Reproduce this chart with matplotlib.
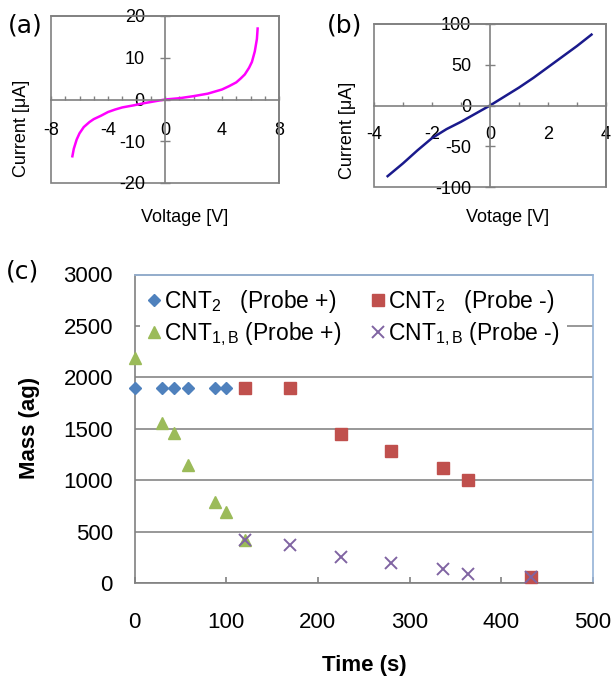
import numpy as np
import matplotlib
matplotlib.use("Agg")
import matplotlib.pyplot as plt
from matplotlib.patches import Rectangle

plt.rcParams['font.family'] = ['Liberation Sans', 'DejaVu Sans']
plt.rcParams['mathtext.fontset'] = 'custom'
plt.rcParams['mathtext.rm'] = 'Liberation Sans'
plt.rcParams['mathtext.it'] = 'Liberation Sans:italic'
plt.rcParams['mathtext.bf'] = 'Liberation Sans:bold'
plt.rcParams['axes.unicode_minus'] = False

# ---- data: panel (a) I-V curve
volt_a = [-6.5, -6.4, -6.2, -6.0, -5.7, -5.3, -5.0, -4.5, -4.0, -3.5, -3.0, -2.2,
          -1.5, -1.0, -0.5, 0.0, 1.0, 2.0, 3.0, 3.6, 4.0, 4.5, 5.0, 5.3, 5.6,
          5.9, 6.1, 6.3, 6.45, 6.5]
curr_a = [-13.6, -11.8, -9.6, -8.1, -6.6, -5.4, -4.7, -3.9, -3.0, -2.4, -1.9, -1.4,
          -0.9, -0.6, -0.3, 0.0, 0.3, 0.8, 1.4, 2.0, 2.4, 3.2, 4.1, 5.0, 6.0,
          7.6, 9.0, 11.5, 14.5, 17.0]

# ---- data: panel (b) I-V curve
volt_b = [-3.53, -3.0, -2.5, -2.0, -1.5, -1.0, -0.5, 0.0, 0.5, 1.0, 1.5, 2.0, 2.5, 3.0, 3.5]
curr_b = [-86.7, -71, -55, -40, -29, -20, -10, 0, 11, 22, 34, 47, 60, 73, 87]

# ---- data: panel (c) mass vs time
t_cnt2_pos = [0, 30, 43, 58, 88, 100]
m_cnt2_pos = [1900, 1900, 1900, 1900, 1900, 1900]
t_cnt2_neg = [120, 170, 225, 280, 336, 364, 432]
m_cnt2_neg = [1900, 1900, 1450, 1285, 1115, 1005, 60]
t_cnt1_pos = [0, 30, 43, 58, 88, 100, 120]
m_cnt1_pos = [2190, 1560, 1460, 1150, 790, 695, 420]
t_cnt1_neg = [120, 170, 225, 280, 336, 364, 432]
m_cnt1_neg = [420, 372, 252, 194, 136, 90, 58]

labels_c = ['CNT$_2$   (Probe +)', 'CNT$_{\\mathrm{1,B}}$ (Probe +)',
            'CNT$_2$   (Probe -)', 'CNT$_{\\mathrm{1,B}}$ (Probe -)']

GRAY = '#808080'
W, H = 613, 677


def px_axes(l, t, r, b):
    return [l / W, 1 - b / H, (r - l) / W, (b - t) / H]


fig = plt.figure(figsize=(6.13, 6.77), dpi=100)


def iv_panel(rect, x, y, color, xlim, ylim, xticks, yticks, xpad, ypad):
    ax = fig.add_axes(rect)
    ax.plot(x, y, color=color, lw=1.8)
    ax.set_xlim(*xlim)
    ax.set_ylim(*ylim)
    for s in ['left', 'bottom']:
        ax.spines[s].set_position(('data', 0))
    for s in ax.spines.values():
        s.set_color(GRAY)
        s.set_linewidth(1.2)
    ax.add_patch(Rectangle((0, 0), 1, 1, transform=ax.transAxes, fill=False,
                           edgecolor=GRAY, lw=1.2, clip_on=False))
    ax.set_xticks(xticks)
    ax.set_xticks(np.arange(xlim[0], xlim[1] + 1), minor=True)
    ax.set_yticks(yticks)
    ax.tick_params(axis='x', which='both', direction='in', length=3, width=1,
                   color=GRAY, pad=xpad, labelsize=13)
    ax.tick_params(axis='y', which='major', direction='inout', length=7, width=1,
                   color=GRAY, pad=ypad, labelsize=13)
    ax.tick_params(top=False, right=False)
    return ax


ax_a = iv_panel(px_axes(51, 16, 279, 183), volt_a, curr_a, '#FF00FF',
                (-8, 8), (-20, 20), [-8, -4, 0, 4, 8], [-20, -10, 0, 10, 20],
                16.5, 11)
ax_b = iv_panel(px_axes(374, 24, 606, 187), volt_b, curr_b, '#1A1A8C',
                (-4, 4), (-100, 100), [-4, -2, 0, 2, 4], [-100, -50, 0, 50, 100],
                14.8, 10)

fig.text(22 / W, 1 - 128 / H, 'Current [\u03bcA]', rotation=90, ha='center',
         va='center', fontsize=13)
fig.text(185 / W, 1 - 217 / H, 'Voltage [V]', ha='center', va='center', fontsize=13)
fig.text(347 / W, 1 - 130 / H, 'Current [\u03bcA]', rotation=90, ha='center',
         va='center', fontsize=13)
fig.text(508 / W, 1 - 217 / H, 'Votage [V]', ha='center', va='center', fontsize=13)

# ---- panel (c)
ax = fig.add_axes(px_axes(134.5, 274.5, 593, 583))
ax.plot(t_cnt2_pos, m_cnt2_pos, 'D', color='#4F81BD', ms=6, ls='none', zorder=3,
        clip_on=False)
ax.plot(t_cnt1_pos, m_cnt1_pos, '^', color='#9BBB59', ms=8.5, ls='none', zorder=3,
        clip_on=False)
ax.plot(t_cnt2_neg, m_cnt2_neg, 's', color='#C0504D', ms=8.5, ls='none', zorder=3,
        clip_on=False)
ax.plot(t_cnt1_neg, m_cnt1_neg, 'x', color='#8064A2', ms=8, mew=1.4, ls='none',
        zorder=4, clip_on=False)
ax.set_xlim(0, 500)
ax.set_ylim(0, 3000)
ax.set_xticks([0, 100, 200, 300, 400, 500])
ax.set_yticks([0, 500, 1000, 1500, 2000, 2500, 3000])
ax.yaxis.grid(True, color='#868686', lw=1.2)
ax.set_axisbelow(True)
ax.spines['top'].set_color('#95B3D7')
ax.spines['right'].set_color('#95B3D7')
ax.spines['left'].set_color(GRAY)
ax.spines['bottom'].set_color(GRAY)
for s in ax.spines.values():
    s.set_linewidth(1.2)
ax.tick_params(axis='x', direction='in', length=4.5, width=1.2, color=GRAY,
               pad=21, labelsize=16)
ax.tick_params(axis='y', length=0, pad=15.5, labelsize=16)

handles = ax.get_lines()
leg = ax.legend(handles, labels_c, ncol=2, loc='upper left',
                bbox_to_anchor=(0.012, 0.977), fontsize=16.5, handlelength=0.6,
                handletextpad=0.15, columnspacing=1.3, borderpad=0.3,
                labelspacing=0.2, frameon=True, fancybox=False,
                framealpha=1, facecolor='white', edgecolor='none',
                borderaxespad=0)
leg.set_zorder(2)

fig.text(30 / W, 1 - 428 / H, 'Mass (ag)', rotation=90, ha='center', va='center',
         fontsize=16, fontweight='bold')
fig.text(364 / W, 1 - 665 / H, 'Time (s)', ha='center', va='center',
         fontsize=16, fontweight='bold')

for lab, x, y in [('(a)', 8, 25), ('(b)', 327, 25), ('(c)', 6, 272)]:
    fig.text(x / W, 1 - y / H, lab, ha='left', va='center', fontsize=18,
             family='DejaVu Sans')

fig.savefig('out.png', dpi=100)
